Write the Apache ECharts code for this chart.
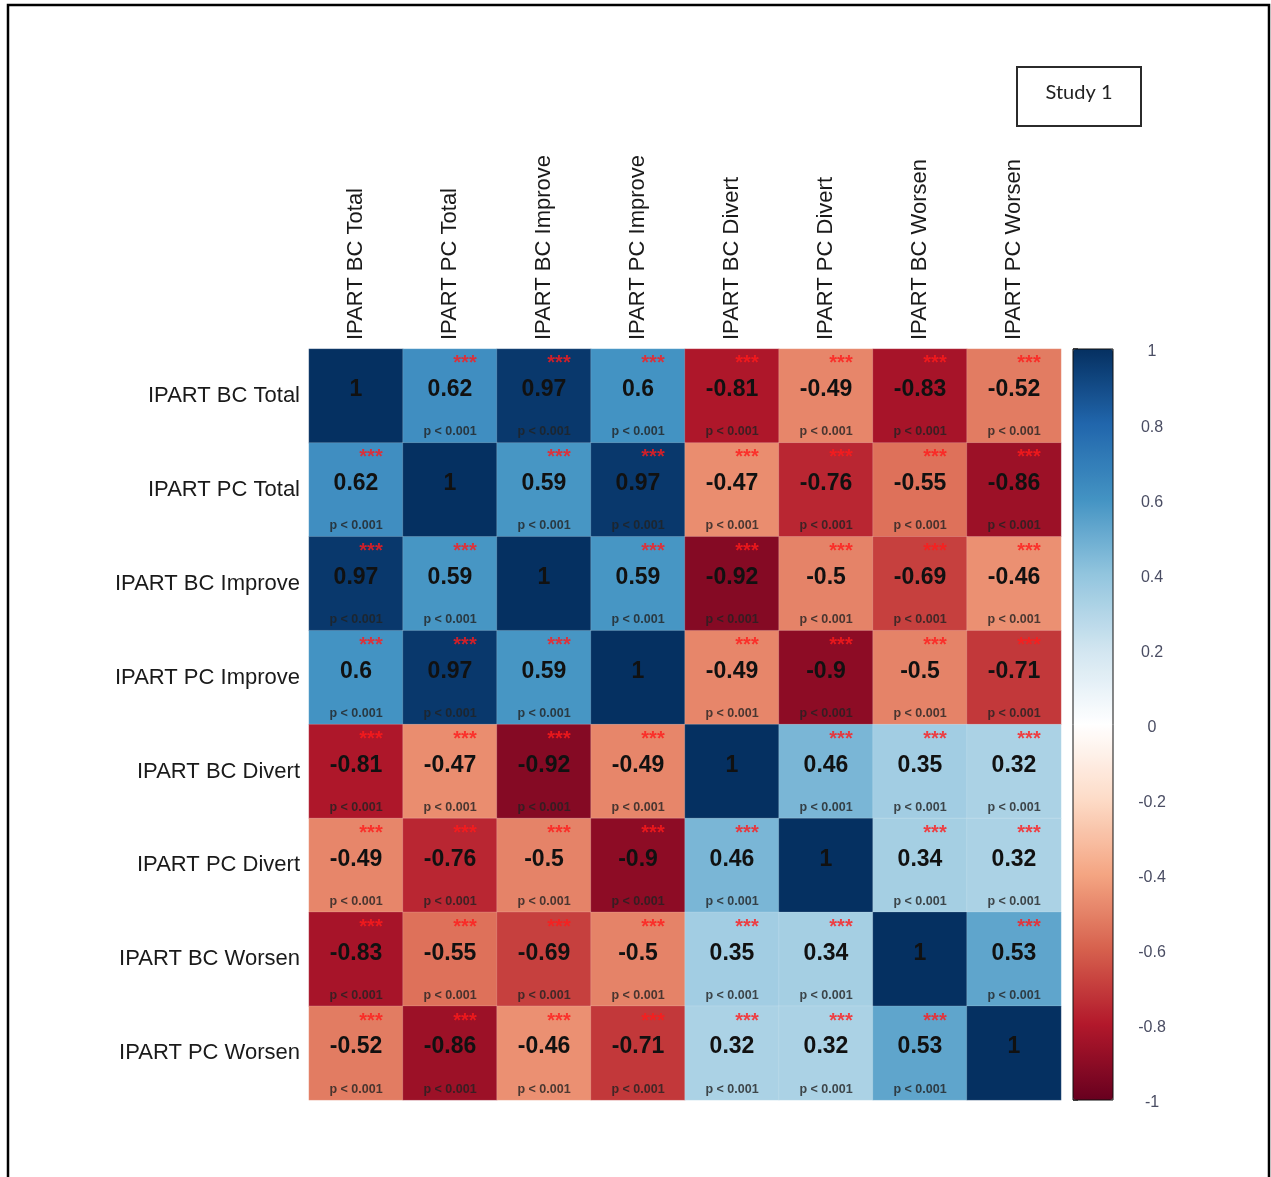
<!DOCTYPE html>
<html>
<head>
<meta charset="utf-8">
<title>Study 1 correlation matrix</title>
<script src="https://cdn.jsdelivr.net/npm/echarts@6/dist/echarts.min.js"></script>
<style>
  html, body { margin: 0; padding: 0; background: #fff; }
  #chart { width: 1271px; height: 1177px; }
</style>
</head>
<body>
<div id="chart"></div>
<script>
// Variables, in matrix order (rows top to bottom, columns left to right)
const variables = [
  'IPART BC Total', 'IPART PC Total', 'IPART BC Improve', 'IPART PC Improve',
  'IPART BC Divert', 'IPART PC Divert', 'IPART BC Worsen', 'IPART PC Worsen'
];

// Pearson correlations, one array per row
const rowBCTotal   = [1, 0.62, 0.97, 0.6, -0.81, -0.49, -0.83, -0.52];
const rowPCTotal   = [0.62, 1, 0.59, 0.97, -0.47, -0.76, -0.55, -0.86];
const rowBCImprove = [0.97, 0.59, 1, 0.59, -0.92, -0.5, -0.69, -0.46];
const rowPCImprove = [0.6, 0.97, 0.59, 1, -0.49, -0.9, -0.5, -0.71];
const rowBCDivert  = [-0.81, -0.47, -0.92, -0.49, 1, 0.46, 0.35, 0.32];
const rowPCDivert  = [-0.49, -0.76, -0.5, -0.9, 0.46, 1, 0.34, 0.32];
const rowBCWorsen  = [-0.83, -0.55, -0.69, -0.5, 0.35, 0.34, 1, 0.53];
const rowPCWorsen  = [-0.52, -0.86, -0.46, -0.71, 0.32, 0.32, 0.53, 1];

// Significance of every off-diagonal pair
const significanceStars = '***';
const pValueText = 'p < 0.001';

// Colour bar scale
const colorbarTicks = [-1, -0.8, -0.6, -0.4, -0.2, 0, 0.2, 0.4, 0.6, 0.8, 1];

// RdBu diverging palette, from -1 to 1
const rdbu = ['#67001F', '#B2182B', '#D6604D', '#F4A582', '#FDDBC7', '#FFFFFF',
              '#D1E5F0', '#92C5DE', '#4393C3', '#2166AC', '#053061'];

const matrix = [rowBCTotal, rowPCTotal, rowBCImprove, rowPCImprove,
                rowBCDivert, rowPCDivert, rowBCWorsen, rowPCWorsen];

const cells = [];
const offDiagonal = [];
matrix.forEach((row, i) => {
  row.forEach((v, j) => {
    cells.push([j, i, v]);
    if (i !== j) offDiagonal.push([j, i]);
  });
});

const FONT = 'Arial';

const chart = echarts.init(document.getElementById('chart'), null, { renderer: 'canvas' });

chart.setOption({
  backgroundColor: '#ffffff',
  animation: false,
  textStyle: { fontFamily: FONT },
  grid: [
    { left: 309, top: 349, width: 752, height: 751 },
    { left: 1073, top: 349, width: 40, height: 751, show: true,
      backgroundColor: 'transparent', borderColor: '#111', borderWidth: 1, z: 10 }
  ],
  xAxis: [
    {
      gridIndex: 0, type: 'category', data: variables, position: 'top',
      axisLine: { show: false }, axisTick: { show: false }, splitLine: { show: false },
      axisLabel: { rotate: -90, interval: 0, margin: 9, fontSize: 22, color: '#1a1a1a', fontFamily: FONT }
    },
    { gridIndex: 1, type: 'value', min: 0, max: 1, show: false }
  ],
  yAxis: [
    {
      gridIndex: 0, type: 'category', data: variables, inverse: true,
      axisLine: { show: false }, axisTick: { show: false }, splitLine: { show: false },
      axisLabel: { interval: 0, margin: 9, fontSize: 22, color: '#1a1a1a', fontFamily: FONT }
    },
    {
      gridIndex: 1, type: 'value', min: -1, max: 1, interval: 0.2, position: 'right',
      axisLine: { show: false }, splitLine: { show: false },
      axisTick: { show: true, length: 5, lineStyle: { color: '#333', width: 1.5 } },
      axisLabel: {
        margin: 39, align: 'center', fontFamily: FONT,
        formatter: v => {
          const r = Math.round(v * 10) / 10;
          return colorbarTicks.includes(r) ? '{t|' + r + '}' : '';
        },
        rich: {
          t: { fontSize: 16, color: '#4a4d63', fontFamily: FONT, padding: [6, 0, 0, 0] }
        }
      }
    }
  ],
  visualMap: {
    type: 'continuous', min: -1, max: 1, seriesIndex: 0,
    calculable: false, hoverLink: false, show: true,
    left: 1073, top: 349, itemWidth: 40, itemHeight: 751, padding: 0,
    text: null, showLabel: false,
    inRange: { color: rdbu }
  },
  series: [
    {
      type: 'heatmap', xAxisIndex: 0, yAxisIndex: 0, data: cells,
      itemStyle: { borderColor: 'rgba(255,255,255,0.25)', borderWidth: 0.6 },
      label: {
        show: true, offset: [0, -6],
        fontSize: 23, fontWeight: 'bold', color: '#111', fontFamily: FONT,
        formatter: p => String(p.value[2])
      },
      emphasis: { disabled: true }
    },
    {
      type: 'scatter', xAxisIndex: 0, yAxisIndex: 0, data: offDiagonal,
      symbolSize: 0, silent: true,
      label: {
        show: true, position: 'inside', offset: [15, -32],
        fontSize: 20, fontWeight: 'bold', color: '#ff1a1a', fontFamily: FONT,
        formatter: () => significanceStars
      }
    },
    {
      type: 'scatter', xAxisIndex: 0, yAxisIndex: 0, data: offDiagonal,
      symbolSize: 0, silent: true,
      label: {
        show: true, position: 'inside', offset: [0, 36],
        fontSize: 12.5, fontWeight: 'bold', color: '#222', fontFamily: FONT,
        formatter: () => pValueText
      }
    }
  ],
  graphic: [
    {
      type: 'rect', z: 100, silent: true,
      shape: { x: 8, y: 5, width: 1261, height: 1220 },
      style: { fill: 'none', stroke: '#000', lineWidth: 2.5 }
    },
    {
      type: 'rect', z: 100, silent: true,
      shape: { x: 1017, y: 67, width: 124, height: 59 },
      style: { fill: '#fff', stroke: '#2b2b2b', lineWidth: 2 }
    },
    {
      type: 'text', z: 101, silent: true,
      x: 1079, y: 93,
      style: { text: 'Study 1', fill: '#222', font: '20px Lato, "Open Sans", sans-serif',
               align: 'center', verticalAlign: 'middle' }
    }
  ]
});
</script>
</body>
</html>
